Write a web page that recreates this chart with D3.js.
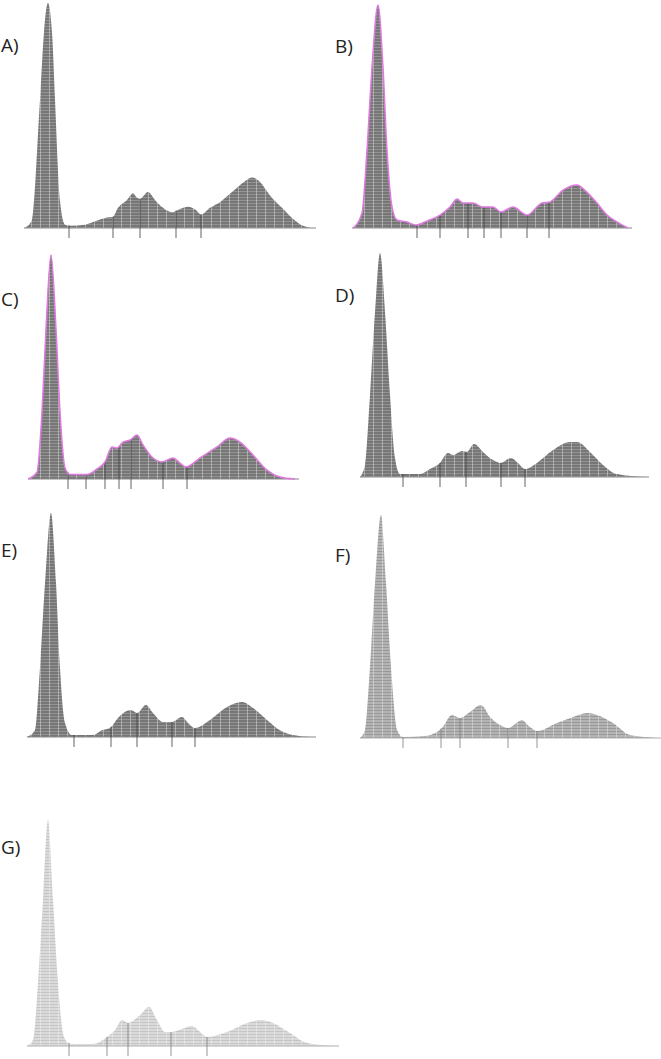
<!DOCTYPE html>
<html>
<head>
<meta charset="utf-8">
<script src="https://cdn.jsdelivr.net/npm/d3@7"></script>
<style>
  body { margin: 0; background: #fff; }
  svg { display: block; }
  .lbl { font-family: "Open Sans", "Liberation Sans", sans-serif; font-size: 19px; fill: #222; }
</style>
</head>
<body>
<svg id="chart" width="661" height="1059"></svg>
<script>
// panel data: x in channel units (0-300), y as % of main peak
var aX = [0, 8, 16, 20, 24, 28, 31, 36, 41, 46, 61, 71, 81, 89, 94, 103, 109, 113, 116, 124, 131, 139, 148, 156, 164, 172, 177, 186, 196, 208, 220, 228, 236, 246, 258, 268, 279, 288];
var aY = [0, 3.5, 57, 87, 100, 87, 57, 12, 1.5, 1, 1.5, 3, 4.5, 5, 9, 12.5, 15.5, 13.5, 13, 16, 12.5, 9, 7, 8.5, 9.5, 8, 6, 9, 11.5, 16, 20.5, 22.5, 20.5, 14.5, 9, 4.5, 1, 0];
var aTicks = [45, 89, 116, 152, 177];

var bX = [1, 10, 15, 20, 26, 31, 35, 40, 45, 55, 64, 75, 88, 98, 105, 111, 121, 131, 141, 149, 161, 175, 190, 198, 211, 225, 235, 245, 255, 265, 276];
var bY = [0, 6.7, 35, 72, 100, 72, 35, 9.5, 3.6, 2.7, 1.3, 3.1, 5.8, 9.4, 13, 11.2, 11.2, 9.4, 9.4, 7.2, 9.4, 5.8, 11.2, 11.7, 17, 19.3, 16, 11.2, 5.8, 2.7, 0];
var bTicks = [65, 88, 116, 132, 149, 175, 197];

var cX = [0, 9, 14, 18, 23, 28, 32, 37, 42, 59, 69, 77, 84, 89, 95, 102, 109, 115, 124, 134, 145, 152, 158, 172, 189, 202, 212, 225, 239, 252, 267];
var cY = [0, 3, 30, 67, 100, 67, 30, 5, 2, 2, 4.5, 7.6, 14.3, 13.8, 16.5, 17.4, 19.6, 15.2, 9.8, 7.6, 9.4, 7.1, 5.4, 9.4, 14.3, 18.3, 16.5, 10.7, 4, 0.9, 0];
var cTicks = [40, 58, 77, 91, 103, 135, 159];

var dX = [0, 5, 10, 15, 20, 25, 30, 35, 40, 60, 70, 80, 88, 93, 102, 107, 114, 123, 133, 141, 151, 158, 165, 177, 193, 210, 217, 230, 243, 257, 285];
var dY = [0, 5.4, 36.6, 73.7, 100, 73.7, 36.6, 8.5, 1.3, 1.3, 3.6, 6.3, 10.7, 9.8, 11.6, 11.2, 14.7, 11.2, 7.6, 6.3, 8.5, 6.3, 3.6, 6.3, 12, 15.6, 15.6, 11.2, 5.4, 1.3, 0];
var dTicks = [43, 80, 106, 141, 165];

var eX = [0, 8, 13, 18, 24, 29, 33, 38, 45, 66, 75, 83, 91, 104, 110, 119, 126, 136, 145, 155, 161, 168, 183, 200, 215, 226, 240, 253, 266, 285];
var eY = [0, 3, 31, 68.7, 100, 68.7, 31, 6.3, 0.9, 0.9, 3, 4, 8.5, 12, 10.7, 14.3, 10.7, 6.7, 6.7, 8.9, 6.3, 4, 7.6, 13.4, 15.6, 12.9, 7.6, 3, 0.9, 0];
var eTicks = [47, 84, 110, 145, 168];

var fX = [0, 5, 10, 15, 21, 26, 31, 37, 43, 65, 82, 92, 100, 110, 121, 130, 140, 148, 162, 170, 177, 197, 213, 227, 237, 253, 270, 298];
var fY = [0, 3.6, 31.8, 69.5, 100, 69.5, 31.8, 3.6, 0.4, 0.9, 4.5, 10.3, 9, 11.7, 14.8, 9.4, 5.8, 4.5, 8, 4.9, 3.1, 6.7, 9.4, 11.2, 10.3, 6.7, 1.3, 0];
var fTicks = [43, 81, 100, 148, 177];

var gX = [0, 6, 11, 16, 21, 26, 31, 37, 43, 66, 80, 88, 95, 101, 113, 122, 130, 138, 145, 155, 165, 173, 180, 200, 220, 233, 246, 263, 280, 308];
var gY = [0, 2.7, 27.9, 64.6, 100, 64.6, 27.9, 4, 0.9, 0.9, 4, 7, 11.5, 10.2, 13.7, 17.3, 11.5, 6.2, 6.2, 7.5, 8.8, 6.2, 4, 6.2, 10.2, 11.5, 10.2, 5.7, 1.3, 0];
var gTicks = [42, 80, 101, 144, 180];

var labels = ["A)", "B)", "C)", "D)", "E)", "F)", "G)"];

// layout of each panel on the page
var panels = [
  {x: aX, y: aY, t: aTicks, x0: 24,  base: 228,  top: 3,   lx: 1,   ly: 52,  fill: "dark",  edge: null},
  {x: bX, y: bY, t: bTicks, x0: 352, base: 228,  top: 5,   lx: 335, ly: 53,  fill: "dark",  edge: "#e07ae0"},
  {x: cX, y: cY, t: cTicks, x0: 28,  base: 479,  top: 255, lx: 1,   ly: 306, fill: "dark",  edge: "#e07ae0"},
  {x: dX, y: dY, t: dTicks, x0: 360, base: 477,  top: 253, lx: 335, ly: 302, fill: "dark",  edge: null},
  {x: eX, y: eY, t: eTicks, x0: 27,  base: 737,  top: 513, lx: 1,   ly: 557, fill: "dark",  edge: null},
  {x: fX, y: fY, t: fTicks, x0: 360, base: 738,  top: 515, lx: 335, ly: 562, fill: "mid",   edge: null},
  {x: gX, y: gY, t: gTicks, x0: 27,  base: 1046, top: 820, lx: 1,   ly: 854, fill: "light", edge: null}
];

var svg = d3.select("#chart");
var defs = svg.append("defs");

// hatched grid fills
var fills = {
  dark:  {bg: "#767676", h: "#a0a0a0", v: "#dcdcdc"},
  mid:   {bg: "#b4b4b4", h: "#8c8c8c", v: "#e4e4e4"},
  light: {bg: "#dadada", h: "#bdbdbd", v: "#f0f0f0"}
};
Object.keys(fills).forEach(function(k) {
  var f = fills[k];
  var p = defs.append("pattern")
    .attr("id", "grid-" + k)
    .attr("patternUnits", "userSpaceOnUse")
    .attr("width", 9).attr("height", 3);
  p.append("rect").attr("width", 9).attr("height", 3).attr("fill", f.bg);
  p.append("rect").attr("y", 2).attr("width", 9).attr("height", 1).attr("fill", f.h).attr("opacity", 0.7);
  p.append("rect").attr("x", 4).attr("width", 1).attr("height", 3).attr("fill", f.v).attr("opacity", 0.5);
});

function interp(xs, ys, v) {
  var i = d3.bisectLeft(xs, v);
  if (i <= 0) return ys[0];
  if (i >= xs.length) return ys[ys.length - 1];
  var t = (v - xs[i - 1]) / (xs[i] - xs[i - 1]);
  return ys[i - 1] + t * (ys[i] - ys[i - 1]);
}

panels.forEach(function(p, k) {
  var x = d3.scaleLinear().domain([0, 300]).range([p.x0, p.x0 + 300]);
  var y = d3.scaleLinear().domain([0, 100]).range([p.base, p.top]);
  var pts = p.x.map(function(v, i) { return [v, p.y[i]]; });
  var g = svg.append("g");

  var area = d3.area()
    .x(function(d) { return x(d[0]); })
    .y0(y(0))
    .y1(function(d) { return y(d[1]); })
    .curve(d3.curveMonotoneX);

  g.append("path")
    .datum(pts)
    .attr("d", area)
    .attr("fill", "url(#grid-" + p.fill + ")");

  // baseline
  g.append("line")
    .attr("x1", x(0)).attr("x2", x(p.x[p.x.length - 1]) + 4)
    .attr("y1", y(0)).attr("y2", y(0))
    .attr("stroke", p.fill == "dark" ? "#8a8a8a" : "#b0b0b0")
    .attr("stroke-width", 1.2);

  // tick marks under the curve
  g.selectAll(".tk")
    .data(p.t)
    .enter().append("line")
    .attr("class", "tk")
    .attr("x1", function(d) { return x(d); })
    .attr("x2", function(d) { return x(d); })
    .attr("y1", y(0) + 10)
    .attr("y2", function(d) { return y(interp(p.x, p.y, d)); })
    .attr("stroke", p.fill == "dark" ? "#444" : "#808080")
    .attr("stroke-opacity", 0.55)
    .attr("stroke-width", 1.5);

  if (p.edge) {
    var line = d3.line()
      .x(function(d) { return x(d[0]); })
      .y(function(d) { return y(d[1]); })
      .curve(d3.curveMonotoneX);
    g.append("path")
      .datum(pts)
      .attr("d", line)
      .attr("fill", "none")
      .attr("stroke", p.edge)
      .attr("stroke-width", 1.5);
  }

  svg.append("text")
    .attr("class", "lbl")
    .attr("x", p.lx).attr("y", p.ly)
    .text(labels[k]);
});
</script>
</body>
</html>
